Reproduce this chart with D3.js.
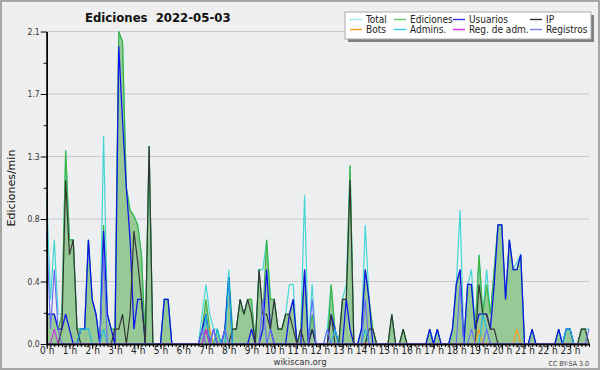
<!DOCTYPE html>
<html><head><meta charset="utf-8">
<script src="https://cdn.jsdelivr.net/npm/d3@7"></script>
<style>
html,body{margin:0;padding:0;background:#efefef;}
svg{display:block;font-family:"DejaVu Sans Condensed","DejaVu Sans",sans-serif;font-stretch:condensed;}
</style></head><body>
<svg id="c" width="600" height="370"></svg>
<script>
const titleText = "Ediciones  2022-05-03";
const yLabel = "Ediciones/min";
const hourLabels = ["0 h","1 h","2 h","3 h","4 h","5 h","6 h","7 h","8 h","9 h","10 h","11 h","12 h","13 h","14 h","15 h","16 h","17 h","18 h","19 h","20 h","21 h","22 h","23 h"];
const yTicks = [0, 0.42, 0.84, 1.26, 1.68, 2.1];
const seriesNames = ["Total","Ediciones","Usuarios","IP","Bots","Admins.","Reg. de adm.","Registros"];

const total = [
1.0,0.3,0.7,0.2,0.2,1.3, 0.7,0.7,0.1,0.1,0.1,0.7,
0.3,0.2,0,1.4,0.2,0.1, 0.1,2.1,2.03,1.05,0.9,0.86,
0.8,0.6,0,1.33,0,0, 0,0.3,0.3,0,0,0,
0,0,0,0,0,0.2, 0.4,0.2,0.1,0.1,0,0.1,
0.5,0.1,0.1,0.3,0.2,0.3, 0.3,0,0.5,0.5,0.7,0.3,
0.3,0.1,0.1,0.2,0.4,0.4, 0,0.1,1.0,0,0.4,0,
0,0,0.1,0.4,0.1,0, 0.3,0.4,1.2,0,0,0.1,
0.8,0.3,0.1,0,0,0, 0,0.2,0,0,0.1,0,
0,0,0,0,0,0.1, 0,0.1,0,0,0,0.1,
0.4,0.9,0,0.4,0.5,0.1, 0.6,0.2,0.5,0.2,0.5,0.8,
0.8,0.3,0.7,0.5,0.55,0.6, 0,0,0.1,0,0,0,
0,0,0,0.1,0,0.1, 0.1,0,0,0.1,0.1,0.1];

const edits = [
0.2,0.2,0.2,0.1,0.2,1.3, 0.7,0.7,0.1,0.1,0.1,0.7,
0.3,0.2,0,0.8,0.2,0.1, 0.1,2.1,2.03,1.05,0.9,0.86,
0.8,0.6,0,1.33,0,0, 0,0.3,0.3,0,0,0,
0,0,0,0,0,0.1, 0.3,0.1,0,0.1,0,0.1,
0.45,0.1,0.1,0.3,0.2,0.3, 0.3,0,0.5,0.2,0.7,0.3,
0.3,0.1,0.1,0.2,0.2,0.3, 0,0.1,0.5,0,0.2,0,
0,0,0,0.4,0.1,0, 0.3,0.3,1.2,0,0,0.1,
0.5,0.3,0.1,0,0,0, 0,0.2,0,0,0.1,0,
0,0,0,0,0,0.1, 0,0.1,0,0,0,0.1,
0.4,0.5,0,0.4,0.4,0.1, 0.6,0.2,0.4,0.2,0.5,0.8,
0.8,0.3,0.7,0.5,0.5,0.6, 0,0,0.1,0,0,0,
0,0,0,0.1,0,0.1, 0.1,0,0,0.1,0.1,0];

const users = [
0.2,0.2,0.2,0.1,0.1,0.2, 0.1,0,0,0.1,0.1,0.7,
0.3,0.2,0,0.76,0.2,0.1, 0,2.0,1.5,1.05,0.7,0.1,
0.3,0.3,0,0,0,0, 0,0.3,0.3,0,0,0,
0,0,0,0,0,0.1, 0.2,0,0.1,0,0,0.1,
0.45,0,0,0,0,0, 0.1,0,0,0.1,0.5,0.1,
0,0,0,0,0.2,0.3, 0,0,0.5,0,0.1,0,
0,0,0,0.2,0.1,0, 0,0.3,0.1,0,0,0.1,
0.5,0.3,0,0,0,0, 0,0,0,0,0,0,
0,0,0,0,0,0.1, 0,0.1,0,0,0,0.1,
0.4,0.5,0,0.4,0.4,0.1, 0.2,0.2,0.2,0.1,0.4,0.8,
0.8,0.3,0.7,0.5,0.5,0.6, 0,0,0.1,0,0,0,
0,0,0,0.1,0,0.1, 0.1,0,0,0,0,0];

const ip = [
0,0,0,0,0.1,1.1, 0.6,0.7,0.1,0,0,0,
0,0,0,0,0,0, 0.1,0.1,0.2,0,0.2,0.76,
0.55,0.3,0,1.33,0,0, 0,0,0,0,0,0,
0,0,0,0,0,0, 0.1,0,0,0,0,0,
0,0.1,0.1,0.3,0.2,0.3, 0.2,0,0.5,0.2,0.2,0.1,
0.3,0.1,0.1,0.2,0.2,0.1, 0,0.1,0,0,0.1,0,
0,0,0,0.2,0,0, 0.3,0.3,1.1,0,0,0,
0,0.1,0.1,0,0,0, 0,0.2,0,0,0.1,0,
0,0,0,0,0,0, 0,0,0,0,0,0,
0,0,0,0,0,0, 0.4,0.2,0.2,0.1,0.1,0,
0,0,0,0,0,0, 0,0,0,0,0,0,
0,0,0,0,0,0, 0,0,0,0.1,0.1,0];

const bots = [
0,0,0,0,0,0, 0,0,0,0,0,0,
0,0,0,0,0,0, 0,0,0,0,0,0,
0,0,0,0,0,0, 0,0,0,0,0,0,
0,0,0,0,0,0, 0.1,0.1,0,0,0,0,
0,0,0,0,0,0, 0,0,0,0,0,0,
0,0,0,0,0,0, 0,0,0,0,0,0,
0,0,0,0,0,0, 0,0,0,0,0,0,
0,0,0,0,0,0, 0,0,0,0,0,0,
0,0,0,0,0,0, 0,0,0,0,0,0,
0,0,0,0,0,0, 0.1,0,0,0,0,0,
0,0,0,0,0.1,0, 0,0,0,0,0,0,
0,0,0,0,0,0, 0,0,0,0,0,0];

const admins = [
0,0,0,0,0,0, 0,0,0,0.1,0.1,0.1,
0,0,0,0.1,0,0, 0,0,0,0,0,0,
0,0,0,0,0,0, 0,0,0,0,0,0,
0,0,0,0,0,0, 0.2,0,0,0.1,0,0,
0.45,0,0,0,0,0, 0,0,0,0,0,0,
0,0,0,0,0,0, 0,0,0,0,0,0,
0,0,0,0,0.1,0, 0,0,0,0,0,0,
0.1,0,0,0,0,0, 0,0,0,0,0,0,
0,0,0,0,0,0, 0,0,0,0,0,0,
0,0,0,0,0,0, 0,0.2,0.1,0,0,0,
0,0,0,0,0,0, 0,0,0,0,0,0,
0,0,0,0,0,0.1, 0.1,0,0,0,0,0];

const regAdm = [
0,0,0.1,0,0,0, 0,0,0,0,0,0,
0,0,0,0,0,0, 0,0,0,0,0,0,
0,0,0,0,0,0, 0,0,0,0,0,0,
0,0,0,0,0,0, 0.1,0,0,0,0,0,
0,0,0,0,0,0, 0,0,0,0,0,0,
0,0,0,0,0,0, 0,0,0,0,0,0,
0,0,0,0,0,0, 0,0,0,0,0,0,
0,0,0,0,0,0, 0,0,0,0,0,0,
0,0,0,0,0,0, 0,0,0,0,0,0,
0,0,0,0,0,0, 0,0,0,0,0,0,
0,0,0,0,0,0, 0,0,0,0,0,0,
0,0,0,0,0,0, 0,0,0,0,0,0];

const logs = [
0.75,0.1,0.5,0.1,0,0, 0,0,0,0,0,0,
0,0,0,0.6,0,0, 0,0,0,0,0,0,
0,0,0,0,0,0, 0,0,0,0,0,0,
0,0,0,0,0,0.1, 0,0,0.1,0,0,0.1,
0,0,0,0,0,0, 0,0,0,0.3,0,0.1,
0,0,0,0,0,0, 0,0,0,0,0.3,0,
0,0,0.1,0,0,0, 0,0,0,0,0,0,
0.3,0,0,0,0,0, 0,0,0,0,0,0,
0,0,0,0,0,0, 0,0,0,0,0,0,
0,0.4,0,0,0.1,0, 0,0,0.1,0,0,0,
0,0,0,0,0,0, 0,0,0,0,0,0,
0,0,0,0,0,0, 0,0,0,0,0,0.1];

const colors = {
  total:"#3fd6d2", edits:"#3cb43c", users:"#1010ee", ip:"#333333",
  bots:"#ff9a1a", admins:"#1ab8e0", regAdm:"#d030e8", logs:"#6a6aff"
};
const legendColors = ["#9fe6e6","#66cc66","#3333ee","#333333","#ff9a1a","#33c8dc","#d030e8","#7777ff"];

const svg = d3.select("#c");
const W = 600, H = 370;
const x = d3.scaleLinear().domain([0, 143]).range([46.7, 589]);
const y = d3.scaleLinear().domain([0, 2.1]).range([344, 31.5]);

svg.append("rect").attr("x",1).attr("y",1).attr("width",W-2).attr("height",H-2)
  .attr("fill","#efefef").attr("stroke","#a6a6a6").attr("stroke-width",2);
svg.append("rect").attr("x",x(0)).attr("y",y(2.1)).attr("width",x(143)-x(0)).attr("height",y(0)-y(2.1))
  .attr("fill","#eceef0");

// grid
svg.append("g").selectAll("line").data(yTicks.filter(d=>d>0)).join("line")
  .attr("x1",x(0)).attr("x2",x(143)).attr("y1",d=>y(d)).attr("y2",d=>y(d))
  .attr("stroke","#c9c9c9").attr("stroke-width",1);

// area
const area = d3.area().x((d,i)=>x(i)).y0(y(0)).y1(d=>y(d));
svg.append("path").datum(edits).attr("d",area).attr("fill","#97c997");

const line = d3.line().x((d,i)=>x(i)).y(d=>y(d));
const drawOrder = [["total",total,1.15],["edits",edits,1.15],["users",users,1.25],["ip",ip,1.15],
  ["bots",bots,1.1],["admins",admins,1.1],["regAdm",regAdm,1.1],["logs",logs,1.1]];
drawOrder.forEach(([k,arr,w])=>{
  svg.append("path").datum(arr).attr("d",line).attr("fill","none")
    .attr("stroke",colors[k]).attr("stroke-width",w).attr("stroke-linejoin","miter");
});

// x axis
const hourIdx = hourLabels.map((h,i)=>i*6);
const xMinor = d3.axisBottom(x).tickValues(d3.range(144)).tickSize(3).tickFormat("").tickSizeOuter(0);
const gxm = svg.append("g").attr("transform",`translate(0,${y(0)})`).call(xMinor);
const xMajor = d3.axisBottom(x).tickValues(hourIdx).tickSize(5).tickSizeOuter(0)
  .tickFormat((d,i)=>hourLabels[i]);
const gx = svg.append("g").attr("transform",`translate(0,${y(0)})`).call(xMajor);
[gxm,gx].forEach(g=>{
  g.selectAll("path").attr("stroke","#000").attr("stroke-width",1.4);
  g.selectAll("line").attr("stroke","#000");
});
gx.selectAll("text").attr("font-size",10).attr("fill","#222").attr("dy","0.55em").attr("y",4.5)
  .attr("font-family","DejaVu Sans Condensed, DejaVu Sans").style("font-stretch","condensed");

// y axis
const yMinorVals = yTicks.slice(0,-1).map((d,i)=>(d+yTicks[i+1])/2);
const gym = svg.append("g").attr("transform",`translate(${x(0)},0)`)
  .call(d3.axisLeft(y).tickValues(yMinorVals).tickSize(3).tickFormat("").tickSizeOuter(0));
const gy = svg.append("g").attr("transform",`translate(${x(0)},0)`)
  .call(d3.axisLeft(y).tickValues(yTicks).tickSize(6).tickSizeOuter(0).tickFormat(d3.format(".1f")));
[gym,gy].forEach(g=>{
  g.selectAll("path").attr("stroke","#000").attr("stroke-width",1.4);
  g.selectAll("line").attr("stroke","#000");
});
gy.selectAll("text").attr("font-size",8.5).attr("fill","#333").attr("x",-7)
  .attr("font-family","DejaVu Sans Condensed, DejaVu Sans").style("font-stretch","condensed");

// titles
svg.append("text").attr("x",85).attr("y",22).attr("font-size",13).attr("font-weight","bold")
  .attr("fill","#111").attr("xml:space","preserve").style("white-space","pre").text(titleText);
svg.append("text").attr("transform","translate(15,188) rotate(-90)").attr("text-anchor","middle")
  .attr("font-size",11).attr("fill","#111").attr("font-family","DejaVu Sans").style("font-stretch","normal")
  .text(yLabel);
svg.append("text").attr("x",300).attr("y",365).attr("text-anchor","middle").attr("font-size",9.5)
  .attr("fill","#333").text("wikiscan.org");
svg.append("text").attr("x",589).attr("y",366).attr("text-anchor","end").attr("font-size",7)
  .attr("fill","#444").text("CC BY-SA 3.0");

// legend
const lg = svg.append("g");
lg.append("rect").attr("x",348).attr("y",15).attr("width",246).attr("height",27).attr("fill","#808080");
lg.append("rect").attr("x",345).attr("y",12).attr("width",246).attr("height",27)
  .attr("fill","#fff").attr("stroke","#aaa").attr("stroke-width",1);
const colX = [350, 394, 453, 530];
const rowY = [19.5, 29.5];
seriesNames.forEach((n,i)=>{
  const cx = colX[i%4], cy = rowY[Math.floor(i/4)];
  lg.append("line").attr("x1",cx).attr("x2",cx+12).attr("y1",cy).attr("y2",cy)
    .attr("stroke",legendColors[i]).attr("stroke-width",1.4);
  lg.append("text").attr("x",cx+16).attr("y",cy+3.8).attr("font-size",10).attr("fill","#222").text(n);
});
</script>
</body></html>
